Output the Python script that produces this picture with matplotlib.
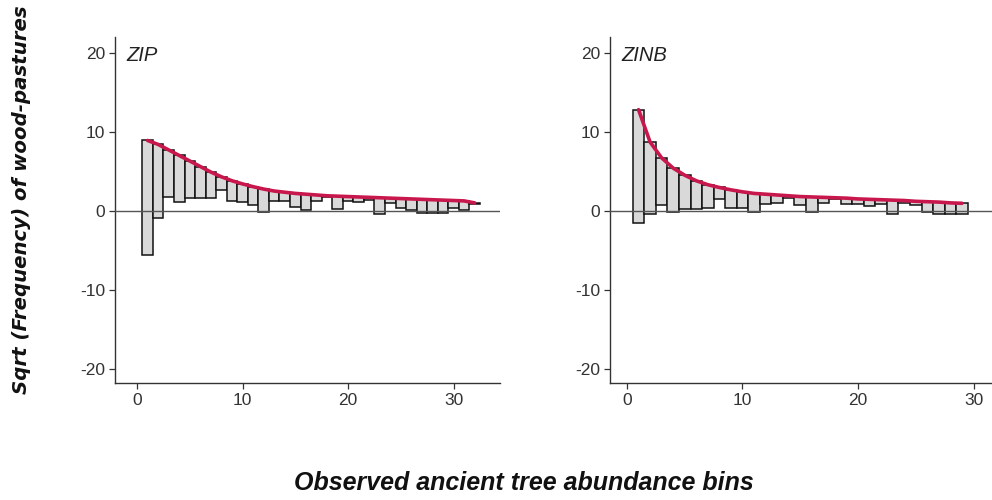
import matplotlib
matplotlib.use("Agg")
import matplotlib.pyplot as plt
import numpy as np

# ---- data (sqrt scale) ----
zip_bins = list(range(1, 33))
zip_expected = [8.9, 8.4, 7.7, 7.0, 6.3, 5.6, 4.9, 4.3, 3.8, 3.4, 3.05, 2.75,
                2.5, 2.35, 2.2, 2.1, 2.0, 1.9, 1.85, 1.8, 1.75, 1.7, 1.65, 1.6,
                1.55, 1.5, 1.45, 1.4, 1.35, 1.3, 1.25, 1.0]
zip_bottom = [-5.6, -0.85, 1.7, 1.1, 1.6, 1.6, 1.6, 2.6, 1.2, 1.05, 0.75, -0.1,
              1.3, 1.2, 0.5, 0.1, 1.2, 1.7, 0.2, 1.2, 1.1, 1.4, -0.4, 1.0,
              0.3, 0.05, -0.3, -0.3, -0.3, 0.3, 0.1, 0.9]

zinb_bins = list(range(1, 30))
zinb_expected = [12.8, 8.7, 6.7, 5.4, 4.5, 3.8, 3.3, 2.95, 2.65, 2.4, 2.2, 2.1,
                 2.0, 1.9, 1.8, 1.75, 1.7, 1.65, 1.6, 1.5, 1.45, 1.4, 1.35, 1.3,
                 1.2, 1.15, 1.1, 1.0, 0.95]
zinb_bottom = [-1.55, -0.4, 0.75, -0.1, 0.2, 0.2, 0.3, 1.5, 0.35, 0.4, -0.1, 0.9,
               1.0, 1.6, 0.75, -0.2, 1.0, 1.5, 0.8, 0.8, 0.55, 0.9, -0.4, 1.0,
               0.75, -0.1, -0.35, -0.35, -0.35]

y_ticks = [-20, -10, 0, 10, 20]
x_ticks = [0, 10, 20, 30]

W, H = 992, 500
fig = plt.figure(figsize=(W / 100, H / 100), dpi=100)

def add_ax(x0, x1, y0, y1):
    return fig.add_axes([x0 / W, 1 - y1 / H, (x1 - x0) / W, (y1 - y0) / H])

ax1 = add_ax(115, 500, 37, 383)
ax2 = add_ax(610, 992, 37, 383)

tick_font = dict(family="Liberation Sans", size=12.5, color="#333333")

def draw(ax, bins, expected, bottom, label, xlim):
    b = np.array(bins)
    e = np.array(expected)
    lo = np.array(bottom)
    ax.bar(b, e - lo, bottom=lo, width=1.0, color="#d9d9d9",
           edgecolor="#111111", linewidth=1.1, zorder=2)
    ax.axhline(0, color="#555555", linewidth=1.0, zorder=3)
    ax.plot(b, e, color="#c8174c", linewidth=2.6, zorder=4,
            solid_capstyle="round")
    ax.set_xlim(*xlim)
    ax.set_ylim(-21.8, 22.0)
    ax.set_yticks(y_ticks)
    ax.set_xticks(x_ticks)
    ax.set_yticklabels([str(t) for t in y_ticks], fontdict=tick_font)
    ax.set_xticklabels([str(t) for t in x_ticks], fontdict=tick_font)
    for s in ["top", "right"]:
        ax.spines[s].set_visible(False)
    for s in ["left", "bottom"]:
        ax.spines[s].set_color("#333333")
        ax.spines[s].set_linewidth(1.0)
    ax.tick_params(axis="both", direction="out", length=4, width=0.9,
                   color="#333333", pad=3)
    ax.text(0.03, 0.975, label, transform=ax.transAxes, ha="left", va="top",
            fontsize=14.5, fontstyle="italic", family="Liberation Sans",
            color="#222222")

draw(ax1, zip_bins, zip_expected, zip_bottom, "ZIP", (-2.09, 34.4))
draw(ax2, zinb_bins, zinb_expected, zinb_bottom, "ZINB", (-1.47, 31.6))

fig.text(22 / W, 1 - 200 / H, "Sqrt (Frequency) of wood-pastures",
         rotation=90, ha="center", va="center", fontsize=14.2,
         fontweight="bold", fontstyle="italic", family="DejaVu Sans",
         color="#111111")
fig.text(524 / W, 1 - 483 / H, "Observed ancient tree abundance bins",
         ha="center", va="center", fontsize=18, fontweight="bold",
         fontstyle="italic", family="Liberation Sans", color="#111111")

fig.savefig("out.png", dpi=100)
